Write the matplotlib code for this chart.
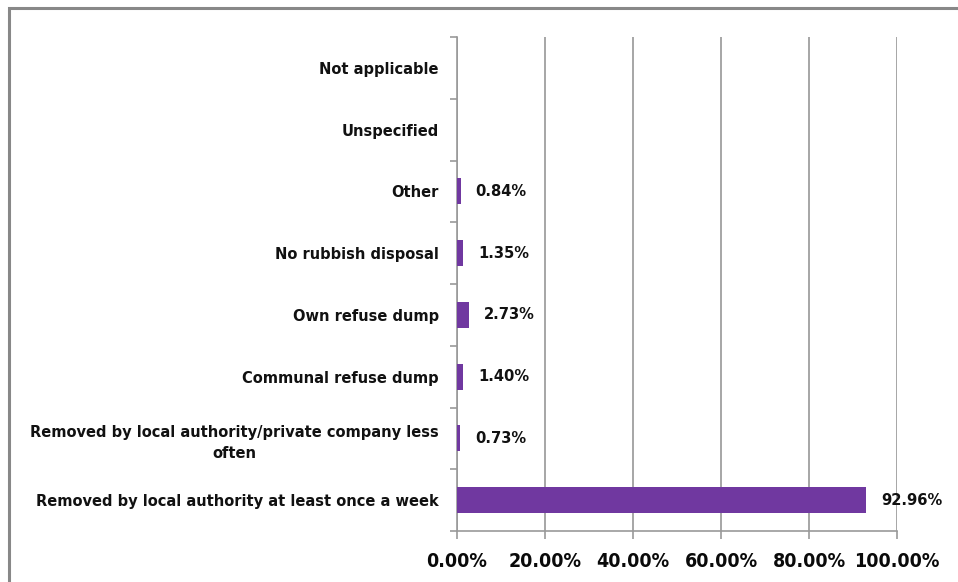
import numpy as np
import matplotlib
matplotlib.use('Agg')
import matplotlib.pyplot as plt
from matplotlib.patches import Rectangle

plt.rcParams['font.family'] = ['DejaVu Sans']
plt.rcParams['font.stretch'] = 'condensed'
plt.rcParams['font.weight'] = 'bold'

# refuse removal categories, bottom to top
cats = ['Removed by local authority at least once a week',
        'Removed by local authority/private company less\noften',
        'Communal refuse dump',
        'Own refuse dump',
        'No rubbish disposal',
        'Other',
        'Unspecified',
        'Not applicable']
pct = [92.96, 0.73, 1.40, 2.73, 1.35, 0.84, np.nan, np.nan]
xticks = [0, 20, 40, 60, 80, 100]

fig = plt.figure(figsize=(9.58, 5.82), dpi=100)
ax = fig.add_axes([457/958, 1-531/582, 440/958, 494/582])

# frame round the chart
fig.patches.append(Rectangle((9/958, -0.1), 1.2, 1-8/582+0.1, transform=fig.transFigure,
                             fill=False, edgecolor='#888888', linewidth=2.2))

y = np.arange(len(cats))
vals = np.nan_to_num(pct)
ax.barh(y, vals, height=0.42, color='#7038A0', zorder=3)
for yi, v in zip(y, pct):
    if not np.isnan(v):
        ax.text(v + 3.4, yi, '%.2f%%' % v, va='center', ha='left',
                fontsize=11.8, fontweight='bold', color='#111111')

ax.set_xlim(0, 100)
ax.set_ylim(-0.5, len(cats) - 0.5)
ax.set_xticks(xticks)
ax.set_xticklabels(['%.2f%%' % t for t in xticks], fontsize=14, fontweight='bold',
                   color='#0a0a0a')
ax.set_yticks(y)
ax.set_yticklabels(cats, fontsize=11.7, fontweight='bold', multialignment='center',
                   linespacing=1.5, color='#111111')
ax.set_yticks(np.arange(len(cats) + 1) - 0.5, minor=True)
ax.tick_params(axis='y', which='major', length=0, pad=13)
ax.tick_params(axis='y', which='minor', length=5, color='#999999', width=1.2)
ax.tick_params(axis='x', length=6, color='#999999', width=1.2, pad=9)
ax.xaxis.grid(True, color='#a6a6a6', linewidth=1.4, zorder=0)
for s in ['top', 'right']:
    ax.spines[s].set_visible(False)
for s in ['left', 'bottom']:
    ax.spines[s].set_color('#999999')
    ax.spines[s].set_linewidth(1.2)

fig.savefig('out.png', dpi=100)
